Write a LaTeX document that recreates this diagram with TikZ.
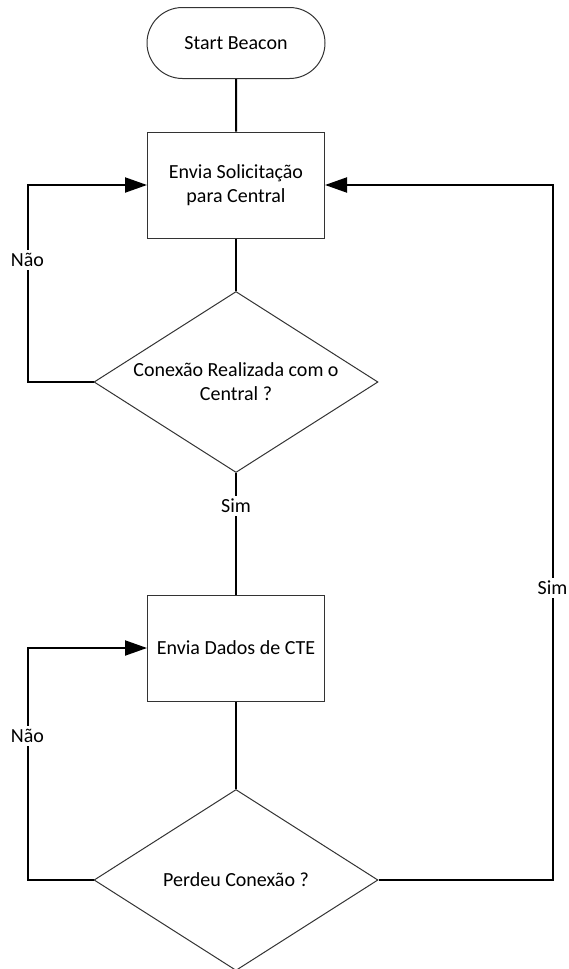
\documentclass[tikz,border=0pt]{standalone}
\usepackage{fontspec}
\setmainfont{Carlito}
\usetikzlibrary{positioning,shapes.geometric,shapes.misc,arrows.meta}

\tikzset{
  terminal/.style={draw=black!80, line width=0.5pt, rounded rectangle,
    minimum width=89pt, minimum height=35.5pt, inner sep=0pt},
  process/.style={draw=black!80, line width=0.5pt, rectangle, align=center,
    minimum width=88.5pt, minimum height=53pt, inner sep=0pt},
  decision/.style={draw=black!80, line width=0.5pt, diamond, align=center,
    aspect=1.57, minimum width=142pt, minimum height=90.5pt, inner sep=0pt},
  answer/.style={fill=white, inner sep=1.5pt}
}

\begin{document}
\begin{tikzpicture}[x=0.5pt, y=-0.5pt, >={Triangle[length=11pt,width=7.5pt]}, line width=1pt]
\useasboundingbox (0,0) rectangle (568,969);

% Draw start node
\node [terminal] (start) at (236,43) {Start Beacon};

% Draw process nodes
\foreach \m/\y/\t in {1/185/{Envia Solicitação\\para Central}, 2/648/{Envia Dados de CTE}}
  \node [process] (process-\m) at (236,\y) {\t};

% Draw decision nodes
\foreach \m/\y/\t in {1/382/{Conexão Realizada com o\\Central ?}, 2/880/{Perdeu Conexão ?}}
  \node [decision] (decision-\m) at (236,\y) {\t};

% Connect the main column
\draw (start) -- (process-1);
\draw (process-1) -- (decision-1);
\draw (decision-1) -- node [answer, pos=0.27] {Sim} (process-2);
\draw (process-2) -- (decision-2);

% Loop back on "Não"
\foreach \i in {1,2}
  \draw [->] (decision-\i.west) -- ++(-66,0)
    |- node [answer, pos=0.31] {Não} (process-\i.west);

% Back to the first request on "Sim"
\draw [->] (decision-2.east) -- ++(174,0)
  |- node [answer, pos=0.21] {Sim} (process-1.east);
\end{tikzpicture}
\end{document}
